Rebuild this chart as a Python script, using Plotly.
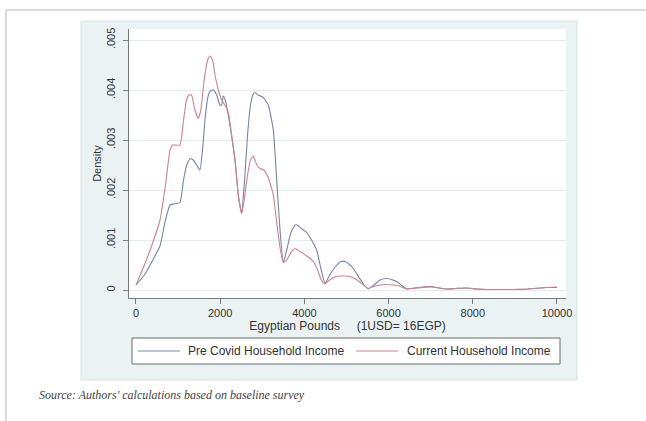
import plotly.graph_objects as go

# ---- data ----
pre_x = [0, 200, 400, 570, 700, 808, 900, 1045, 1130, 1204, 1283, 1360, 1441, 1520, 1580, 1650, 1720, 1770,
         1840, 1916, 1995, 2035, 2074, 2120, 2193, 2270, 2352, 2430, 2510, 2580, 2650, 2720, 2787, 2826, 2900,
         3024, 3143, 3262, 3350, 3430, 3500, 3580, 3680, 3777, 3830, 3930, 4054, 4170, 4291, 4400, 4489, 4600,
         4750, 4870, 4964, 5083, 5162, 5300, 5420, 5518, 5650, 5800, 5954, 6100, 6192, 6300, 6429, 6600, 6800,
         6983, 7200, 7380, 7600, 7855, 8100, 8330, 8600, 8963, 9300, 9600, 9755, 10000]
pre_y = [0.0001, 0.0003, 0.0006, 0.00088, 0.0014, 0.0017, 0.00172, 0.00175, 0.0022, 0.0025, 0.00263, 0.0026,
         0.0025, 0.0024, 0.0028, 0.0035, 0.0039, 0.00398, 0.004, 0.0039, 0.0037, 0.0037, 0.00388, 0.0038, 0.0035,
         0.0031, 0.0026, 0.0019, 0.00153, 0.0022, 0.0031, 0.0037, 0.00392, 0.00395, 0.0039, 0.00385, 0.0037,
         0.0032, 0.0021, 0.0011, 0.00055, 0.0008, 0.00115, 0.0013, 0.0013, 0.00123, 0.00115, 0.001, 0.0008,
         0.0004, 0.00013, 0.0003, 0.00048, 0.00057, 0.00057, 0.0005, 0.00043, 0.00025, 0.0001, 0.00002, 0.0001,
         0.0002, 0.00023, 0.0002, 0.00017, 0.0001, 0.00002, 0.00004, 0.00006, 0.00007, 0.00004, 0.00002, 0.00003,
         0.00004, 0.00002, 0.00001, 0.00001, 0.00001, 0.00002, 0.00004, 0.00005, 0.00005]

cur_x = [0, 200, 400, 570, 700, 808, 870, 1045, 1130, 1200, 1260, 1320, 1400, 1480, 1540, 1620, 1700, 1758,
         1820, 1877, 1956, 2035, 2110, 2193, 2270, 2352, 2430, 2510, 2570, 2650, 2720, 2787, 2870, 2945, 3040,
         3143, 3262, 3350, 3430, 3500, 3580, 3680, 3777, 3900, 4054, 4180, 4291, 4400, 4489, 4600, 4750, 4846,
         4960, 5083, 5250, 5400, 5518, 5650, 5800, 5954, 6100, 6250, 6429, 6600, 6800, 6983, 7200, 7380, 7600,
         7855, 8100, 8330, 8600, 8963, 9300, 9600, 9755, 10000]
cur_y = [0.0001, 0.0005, 0.00095, 0.0014, 0.0021, 0.0028, 0.0029, 0.0029, 0.0034, 0.0038, 0.0039, 0.0039,
         0.0036, 0.00343, 0.0036, 0.0042, 0.0046, 0.00468, 0.0046, 0.0043, 0.004, 0.0038, 0.0037, 0.00355,
         0.0031, 0.0026, 0.0019, 0.00153, 0.0018, 0.0023, 0.0026, 0.00268, 0.0025, 0.00243, 0.0024, 0.00225,
         0.0019, 0.0013, 0.0008, 0.00055, 0.0006, 0.00075, 0.00083, 0.00077, 0.00068, 0.0006, 0.00045, 0.0002,
         0.00012, 0.0002, 0.00027, 0.00028, 0.00028, 0.00027, 0.0002, 0.0001, 0.00003, 0.00007, 0.0001, 0.00011,
         0.0001, 0.00008, 0.00002, 0.00003, 0.00005, 0.00006, 0.00004, 0.00002, 0.00003, 0.00004, 0.00002,
         0.00001, 0.00001, 0.00001, 0.00002, 0.00004, 0.00005, 0.00006]

x_ticks = [0, 2000, 4000, 6000, 8000, 10000]
x_tick_labels = ["0", "2000", "4000", "6000", "8000", "10000"]
y_ticks = [0, 0.001, 0.002, 0.003, 0.004, 0.005]
y_tick_labels = ["0", ".001", ".002", ".003", ".004", ".005"]

series_names = ["Pre Covid Household Income", "Current Household Income"]
series_colors = ["#7486a2", "#cc8390"]

# ---- layout geometry (pixels) ----
W, H = 646, 421
PL, PR, PT, PB = 129, 566, 29, 298


def fx(p):
    return (p - PL) / (PR - PL)


def fy(p):
    return (PB - p) / (PB - PT)


fig = go.Figure()
for xs, ys, name, col in [(pre_x, pre_y, series_names[0], series_colors[0]),
                          (cur_x, cur_y, series_names[1], series_colors[1])]:
    fig.add_trace(go.Scatter(x=xs, y=ys, mode="lines", name=name, showlegend=False,
                             line=dict(color=col, width=1.1, shape="spline", smoothing=0.4)))

font_main = "Liberation Sans, Arial, sans-serif"
axis_col = "#7a7a7a"

# manual Stata-style legend (box, line samples, labels)
LEG_X0, LEG_X1, LEG_Y0, LEG_Y1 = 132, 560, 338, 364
leg_mid = (LEG_Y0 + LEG_Y1) / 2
legend_items = [(138, 180, 186), (356, 398, 405)]

shapes = [
    dict(type="rect", xref="paper", yref="paper", x0=fx(81), x1=fx(577), y0=fy(380), y1=fy(21),
         fillcolor="#eaf2f3", line=dict(color="#d6e2e3", width=1), layer="below"),
    dict(type="rect", xref="paper", yref="paper", x0=fx(PL), x1=fx(PR), y0=fy(PB), y1=fy(PT),
         fillcolor="white", line=dict(width=0), layer="below"),
    dict(type="line", xref="paper", yref="paper", x0=fx(6), x1=fx(646), y0=fy(10), y1=fy(10),
         line=dict(color="#cccccc", width=1.5), layer="below"),
    dict(type="line", xref="paper", yref="paper", x0=fx(6), x1=fx(6), y0=fy(10), y1=fy(421),
         line=dict(color="#cccccc", width=1.5), layer="below"),
    dict(type="rect", xref="paper", yref="paper", x0=fx(LEG_X0), x1=fx(LEG_X1), y0=fy(LEG_Y1), y1=fy(LEG_Y0),
         fillcolor="white", line=dict(color="#6a6a6a", width=1), layer="below"),
]
annotations = []
for (lx0, lx1, tx), name, col in zip(legend_items, series_names, series_colors):
    shapes.append(dict(type="line", xref="paper", yref="paper", x0=fx(lx0), x1=fx(lx1),
                       y0=fy(leg_mid), y1=fy(leg_mid), line=dict(color=col, width=1.1)))
    annotations.append(dict(text=name, xref="paper", yref="paper", x=fx(tx), y=fy(leg_mid),
                            xanchor="left", yanchor="middle", showarrow=False,
                            font=dict(family=font_main, size=12, color="#333333")))

annotations.append(dict(text="<i>Source: Authors' calculations based on baseline survey</i>",
                        xref="paper", yref="paper", x=fx(37), y=fy(395), xanchor="left", yanchor="middle",
                        showarrow=False, font=dict(family="Liberation Serif, Times New Roman, serif", size=12,
                                                   color="#444444")))

fig.update_layout(
    width=W, height=H,
    margin=dict(l=PL, r=W - PR, t=PT, b=H - PB, autoexpand=False),
    paper_bgcolor="white",
    plot_bgcolor="white",
    font=dict(family=font_main, size=11, color="#333333"),
    showlegend=False,
    xaxis=dict(range=[-166, 10214], tickvals=x_ticks, ticktext=x_tick_labels,
               showline=True, linecolor=axis_col, linewidth=1, mirror=False,
               ticks="outside", ticklen=5, tickcolor=axis_col, showgrid=False, zeroline=False,
               title=dict(text="Egyptian Pounds" + "\u00a0" * 5 + "(1USD= 16EGP)", standoff=0,
                          font=dict(size=12))),
    yaxis=dict(range=[-0.00016, 0.00522], tickvals=y_ticks, ticktext=y_tick_labels,
               tickangle=-90, ticklabelstandoff=4,
               showline=True, linecolor=axis_col, linewidth=1,
               ticks="outside", ticklen=5, tickcolor=axis_col,
               showgrid=True, gridcolor="#e3ecec", gridwidth=1, zeroline=False,
               title=dict(text="Density", standoff=0, font=dict(size=11))),
    shapes=shapes,
    annotations=annotations,
)

fig.write_html("out.html", config={"displayModeBar": False, "staticPlot": True},
               post_script="document.body.style.margin='0';document.body.style.overflow='hidden';")
